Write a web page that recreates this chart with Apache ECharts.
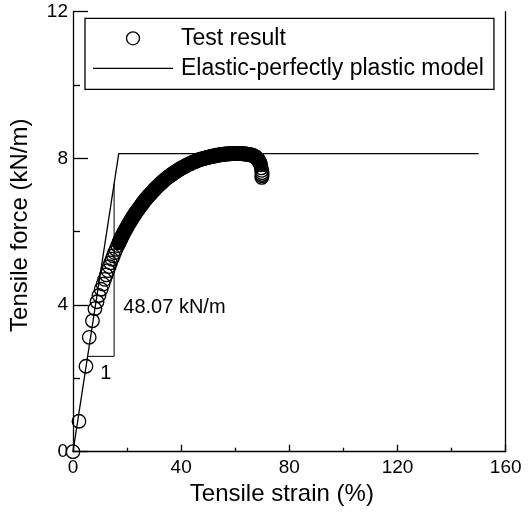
<!DOCTYPE html>
<html>
<head>
<meta charset="utf-8">
<script src="https://cdn.jsdelivr.net/npm/echarts@6/dist/echarts.min.js"></script>
<style>html,body{margin:0;padding:0;background:#fff}#c{width:529px;height:513px}</style>
</head>
<body>
<div id="c"></div>
<script>
// Test result: tensile strain (%) and tensile force (kN/m)
var testStrain = [0, 2.2, 4.8, 6.0, 7.2, 8.1, 8.9, 9.6, 10.4, 11.1, 11.7, 12.3, 12.9, 13.4, 13.9, 14.4, 14.9, 15.4, 15.9,
  16.5, 17, 17.5, 18, 18.5, 19, 19.5, 20, 20.5, 21, 21.5, 22, 22.5, 23, 23.5, 24, 24.5, 25, 25.5, 26, 26.5, 27, 27.5, 28, 28.5, 29, 29.5,
  30, 30.5, 31, 31.5, 32, 32.5, 33, 33.5, 34, 34.5, 35, 35.5, 36, 36.5, 37, 37.5, 38, 38.5, 39, 39.5,
  40, 40.5, 41, 41.5, 42, 42.5, 43, 43.5, 44, 44.5, 45, 45.5, 46, 46.5, 47, 47.5, 48, 48.5, 49, 49.5,
  50, 50.5, 51, 51.5, 52, 52.5, 53, 53.5, 54, 54.5, 55, 55.5, 56, 56.5, 57, 57.5, 58, 58.5, 59, 59.5,
  60, 60.5, 61, 61.5, 62, 62.5, 63, 63.5, 64, 64.5, 65, 65.5, 66, 66.5, 67, 67.5, 68, 68.4, 68.8, 69.1,
  69.4, 69.6, 69.8, 69.9, 69.9, 69.9, 69.8];
var testForce = [0, 0.83, 2.33, 3.12, 3.57, 3.90, 4.09, 4.26, 4.43, 4.57, 4.70, 4.82, 4.94, 5.05, 5.15, 5.25, 5.34, 5.43, 5.52,
  5.62, 5.70, 5.78, 5.86, 5.93, 6.00, 6.07, 6.13, 6.20, 6.26, 6.32, 6.38, 6.44, 6.49, 6.55, 6.60, 6.65, 6.70, 6.75, 6.80, 6.85, 6.89, 6.94, 6.98, 7.02, 7.06, 7.10,
  7.14, 7.18, 7.22, 7.25, 7.29, 7.32, 7.35, 7.39, 7.42, 7.45, 7.48, 7.51, 7.53, 7.56, 7.59, 7.61, 7.64, 7.66, 7.68, 7.71,
  7.73, 7.75, 7.77, 7.79, 7.81, 7.83, 7.85, 7.86, 7.88, 7.90, 7.91, 7.93, 7.94, 7.96, 7.97, 7.98, 7.99, 8.00, 8.01, 8.02,
  8.03, 8.04, 8.05, 8.06, 8.06, 8.07, 8.08, 8.09, 8.09, 8.10, 8.10, 8.11, 8.11, 8.12, 8.12, 8.12, 8.13, 8.13, 8.13, 8.13,
  8.13, 8.13, 8.13, 8.13, 8.13, 8.13, 8.12, 8.12, 8.12, 8.11, 8.11, 8.10, 8.09, 8.08, 8.06, 8.04, 8.01, 7.97, 7.93, 7.88,
  7.82, 7.74, 7.67, 7.61, 7.56, 7.52, 7.48];
// index range of the test points that overlap into a solid band
var bandStart = 20;
var bandEnd = 126;

// Elastic-perfectly plastic model
var modelStrain = [0, 16.91, 150];
var modelForce = [0, 8.13, 8.13];

// Slope triangle
var triStrain = [5.4, 15.2, 15.2];
var triForce = [2.6, 2.6, 7.31];

// Annotation texts
var noteText = ['48.07 kN/m', '1'];
var noteStrain = [18.6, 10.1];
var noteForce = [3.92, 2.13];

var xTicks = [0, 40, 80, 120, 160];
var yTicks = [0, 4, 8, 12];

var FONT = '"Liberation Sans", Arial, Helvetica, sans-serif';

function zip(a, b) { return a.map(function (v, i) { return [v, b[i]]; }); }

var chart = echarts.init(document.getElementById('c'), null, { renderer: 'canvas' });
chart.setOption({
  animation: false,
  backgroundColor: '#fff',
  grid: { left: 70.7, right: 23.3, top: 11.7, bottom: 61.3, containLabel: false },
  legend: {
    data: [
      { name: 'Test result', icon: 'circle', itemStyle: { color: 'rgba(0,0,0,0)', borderColor: '#000', borderWidth: 1.3 } },
      { name: 'Elastic-perfectly plastic model', icon: 'path://M0,0L80,0L80,1.3L0,1.3Z', itemStyle: { color: '#000', borderWidth: 0 } }
    ],
    orient: 'vertical',
    left: 85, top: 18.3,
    width: 410,
    padding: [8.5, 10, 9.5, 8],
    borderColor: '#000', borderWidth: 1.3,
    itemWidth: 80, itemHeight: 13,
    itemGap: 7,
    textStyle: { fontFamily: FONT, fontSize: 23, color: '#000', lineHeight: 23, padding: [0, 0, 0, 3] }
  },
  xAxis: {
    type: 'value', min: xTicks[0], max: xTicks[xTicks.length - 1], interval: 40,
    name: 'Tensile strain (%)', nameLocation: 'middle', nameGap: 29,
    nameTextStyle: { fontFamily: FONT, fontSize: 24, color: '#000', padding: [0, 15, 0, 0] },
    axisLine: { show: true, onZero: false, lineStyle: { color: '#000', width: 1.3 } },
    axisTick: { show: true, inside: true, length: 7, lineStyle: { color: '#000', width: 1.3 } },
    minorTick: { show: true, splitNumber: 2, length: 4, lineStyle: { color: '#000', width: 1.3 } },
    axisLabel: { fontFamily: FONT, fontSize: 19, color: '#000', margin: 7 },
    splitLine: { show: false }
  },
  yAxis: [{
    type: 'value', min: yTicks[0], max: yTicks[yTicks.length - 1], interval: 4,
    name: 'Tensile force (kN/m)', nameLocation: 'middle', nameGap: 41,
    nameTextStyle: { fontFamily: FONT, fontSize: 24, color: '#000', padding: [0, 0, 0, 13] },
    axisLine: { show: true, onZero: false, lineStyle: { color: '#000', width: 1.3 } },
    axisTick: { show: true, inside: true, length: 15, lineStyle: { color: '#000', width: 1.3 } },
    minorTick: { show: true, splitNumber: 2, length: 7, lineStyle: { color: '#000', width: 1.3 } },
    axisLabel: { fontFamily: FONT, fontSize: 19, color: '#000', margin: 5 },
    splitLine: { show: false }
  }, {
    type: 'value', min: yTicks[0], max: yTicks[yTicks.length - 1], interval: 4, position: 'right',
    axisLine: { show: true, onZero: false, lineStyle: { color: '#000', width: 1.3 } },
    axisTick: { show: false }, axisLabel: { show: false }, splitLine: { show: false }
  }],
  series: [
    {
      name: 'Test result', type: 'scatter', data: zip(testStrain, testForce),
      symbol: 'circle', symbolSize: 13.5,
      itemStyle: { color: 'rgba(0,0,0,0)', borderColor: '#000', borderWidth: 1.3, opacity: 1 },
      emphasis: { disabled: true }, z: 3
    },
    {
      name: 'band', type: 'line', data: zip(testStrain, testForce).slice(bandStart, bandEnd),
      symbol: 'none', showSymbol: false, smooth: false,
      lineStyle: { color: '#000', width: 15, cap: 'round', join: 'round' }, z: 3, silent: true
    },
    {
      name: 'Elastic-perfectly plastic model', type: 'line', data: zip(modelStrain, modelForce),
      symbol: 'none', showSymbol: false,
      lineStyle: { color: '#000', width: 1.3 }, itemStyle: { color: '#000' }, z: 2
    },
    {
      name: 'triangle', type: 'line', data: zip(triStrain, triForce),
      symbol: 'none', showSymbol: false,
      lineStyle: { color: '#000', width: 1 }, z: 2
    }
  ]
});

// annotation texts positioned through the chart's own coordinate system
var g = noteText.map(function (t, i) {
  var p = chart.convertToPixel({ gridIndex: 0 }, [noteStrain[i], noteForce[i]]);
  return { type: 'text', x: p[0], y: p[1], z: 10,
    style: { text: t, fill: '#000', font: '20px ' + FONT, textAlign: 'left', textVerticalAlign: 'middle' } };
});
chart.setOption({ graphic: g });
</script>
</body>
</html>
